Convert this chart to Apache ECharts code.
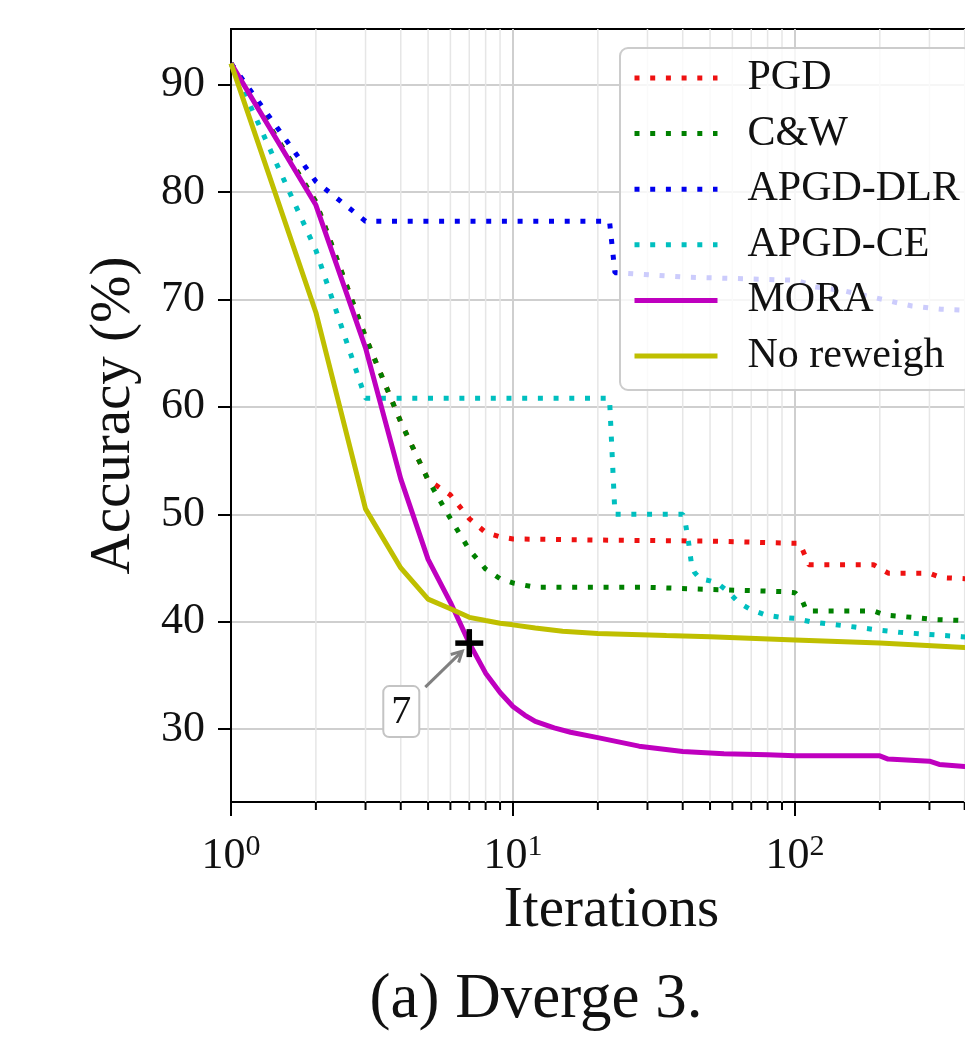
<!DOCTYPE html>
<html>
<head>
<meta charset="utf-8">
<script src="https://cdn.jsdelivr.net/npm/echarts@6.0.0/dist/echarts.min.js"></script>
<style>
  html, body { margin: 0; padding: 0; background: #ffffff; overflow: hidden; }
  #chart { width: 1100px; height: 1046px; }
</style>
</head>
<body>
<div id="chart"></div>
<script>
// Robust accuracy (%) against attack iterations (log scale), Dverge 3 ensemble.
const pgdIter = [1, 2, 3, 4, 5, 6, 7, 8, 9, 10, 20, 50, 100, 104, 108, 112, 190, 205, 215, 300, 330, 400, 500];
const pgdAcc  = [92, 79.1, 66.5, 58.6, 53.2, 51.8, 49.6, 48.3, 47.9, 47.7, 47.6, 47.5, 47.3, 47.3, 46.3, 45.3, 45.3, 44.8, 44.5, 44.5, 44.1, 44.0, 43.9];

const cwIter = [1, 2, 3, 4, 5, 6, 7, 8, 9, 10, 12, 30, 50, 90, 100, 106, 110, 190, 210, 260, 310, 400, 500];
const cwAcc  = [92, 79.1, 66.5, 58.6, 53.2, 49.6, 46.7, 44.9, 44.0, 43.6, 43.2, 43.2, 43.0, 42.8, 42.7, 42.0, 41.0, 41.0, 40.6, 40.4, 40.2, 40.1, 40.0];

const dlrIter = [1, 2, 3, 22, 23, 40, 100, 110, 116, 150, 190, 260, 330, 400, 500];
const dlrAcc  = [92, 81.0, 77.3, 77.3, 72.5, 72.1, 71.8, 71.5, 71.2, 70.8, 70.2, 69.4, 69.1, 69.0, 68.8];

const ceIter = [1, 2, 3, 22, 23, 40, 41, 42, 43, 44, 46, 50, 53, 58, 63, 70, 79, 89, 100, 113, 130, 163, 200, 236, 300, 390, 500];
const ceAcc  = [92, 74.6, 60.8, 60.8, 50.0, 50.0, 49.0, 47.3, 45.3, 44.6, 44.0, 43.8, 43.6, 42.8, 41.8, 41.1, 40.6, 40.4, 40.3, 40.0, 39.8, 39.5, 39.2, 39.0, 38.8, 38.6, 38.4];

const moraIter = [1, 2, 3, 4, 5, 6, 7, 8, 9, 10, 11, 12, 14, 16, 20, 28, 40, 56, 80, 100, 200, 214, 300, 325, 400, 500];
const moraAcc  = [92, 78.8, 65.5, 53.3, 45.8, 41.8, 38.0, 35.2, 33.4, 32.1, 31.3, 30.7, 30.1, 29.7, 29.2, 28.4, 27.9, 27.7, 27.6, 27.5, 27.5, 27.2, 27.0, 26.7, 26.5, 26.4];

const noRwIter = [1, 2, 3, 4, 5, 6, 7, 8, 9, 10, 12, 15, 20, 35, 50, 100, 200, 400, 500];
const noRwAcc  = [92, 68.8, 50.5, 45.0, 42.1, 41.2, 40.4, 40.1, 39.85, 39.7, 39.4, 39.1, 38.9, 38.7, 38.6, 38.3, 38.0, 37.6, 37.5];

// Marked iteration on the MORA curve
const markIter = 7;

// Axis ranges and ticks
const xMin = 1, xMax = 500;
const yMin = 23.2, yMax = 95.2;
const yTicks = [30, 40, 50, 60, 70, 80, 90];
const xMinor = [2, 3, 4, 5, 6, 7, 8, 9, 20, 30, 40, 50, 60, 70, 80, 90, 200, 300, 400];

const serif = 'Liberation Serif';
const ink = '#111111';

function pairs(xs, ys) { return xs.map((x, i) => [x, ys[i]]); }

const dotted = { width: 5, type: [5, 10.7], cap: 'butt' };
const solid = { width: 5, type: 'solid' };

function lineSeries(name, xs, ys, color, style, z) {
  return {
    name: name,
    type: 'line',
    data: pairs(xs, ys),
    symbol: 'none',
    smooth: false,
    z: z,
    itemStyle: { color: color },
    lineStyle: Object.assign({ color: color }, style),
    emphasis: { disabled: true }
  };
}

const chart = echarts.init(document.getElementById('chart'), null, { renderer: 'canvas' });

chart.setOption({
  animation: false,
  backgroundColor: '#ffffff',
  grid: {
    left: 231, right: 108, top: 29, bottom: 244,
    show: true, borderColor: '#000000', borderWidth: 2, backgroundColor: 'transparent'
  },
  legend: {
    data: ['PGD', 'C&W', 'APGD-DLR', 'APGD-CE', 'MORA', 'No reweigh'],
    orient: 'vertical',
    left: 620,
    top: 48,
    align: 'left',
    padding: [8, 12, 12, 12],
    itemWidth: 83,
    itemHeight: 20,
    itemGap: 11.6,
    backgroundColor: 'rgba(255,255,255,0.8)',
    borderColor: '#cccccc',
    borderWidth: 2,
    borderRadius: 8,
    itemStyle: { opacity: 0 },
    lineStyle: { width: 5 },
    selectedMode: false,
    textStyle: {
      fontFamily: serif, fontSize: 42, color: ink, lineHeight: 44,
      padding: [0, 0, 0, 25]
    }
  },
  xAxis: {
    type: 'log',
    logBase: 10,
    min: xMin,
    max: xMax,
    name: 'Iterations',
    nameLocation: 'middle',
    nameGap: 81,
    nameMoveOverlap: false,
    nameTextStyle: { fontFamily: serif, fontSize: 57, color: ink },
    axisLine: { show: true, lineStyle: { color: '#000000', width: 2 } },
    axisTick: { show: true, inside: false, length: 14, lineStyle: { color: '#000000', width: 2 } },
    axisLabel: {
      margin: 30,
      showMaxLabel: false,
      formatter: function (v) {
        return '{b|10}{s|' + Math.round(Math.log10(v)) + '}';
      },
      rich: {
        b: { fontFamily: serif, fontSize: 44, lineHeight: 48, color: ink },
        s: { fontFamily: serif, fontSize: 30, lineHeight: 14, color: ink, verticalAlign: 'top' }
      }
    },
    splitLine: { show: true, lineStyle: { color: '#cfcfcf', width: 2 } },
    minorTick: { show: false },
    minorSplitLine: { show: false }
  },
  yAxis: {
    type: 'value',
    min: yMin,
    max: yMax,
    splitNumber: 7,
    name: 'Accuracy (%)',
    nameLocation: 'middle',
    nameGap: 88,
    nameTextStyle: { fontFamily: serif, fontSize: 57, color: ink },
    axisLine: { show: true, lineStyle: { color: '#000000', width: 2 } },
    axisTick: { show: true, inside: false, length: 13, customValues: yTicks, lineStyle: { color: '#000000', width: 2 } },
    axisLabel: {
      margin: 26, customValues: yTicks,
      fontFamily: serif, fontSize: 44, color: ink
    },
    splitLine: { show: true, lineStyle: { color: '#cfcfcf', width: 2 } }
  },
  graphic: [{
    type: 'text',
    x: 536,
    y: 1000,
    style: {
      text: '(a) Dverge 3.',
      font: '63px "Liberation Serif"',
      fill: '#111111',
      align: 'center',
      verticalAlign: 'middle'
    }
  }],
  series: [
    {
      // minor log grid lines and minor ticks
      name: 'minor',
      type: 'custom',
      z: 1,
      clip: false,
      silent: true,
      data: xMinor.map(v => [v, yMin]),
      encode: { x: 0, y: 1 },
      renderItem: function (params, api) {
        const x = api.value(0);
        const top = api.coord([x, yMax]);
        const bot = api.coord([x, yMin]);
        return {
          type: 'group',
          children: [
            { type: 'line', shape: { x1: top[0], y1: top[1], x2: bot[0], y2: bot[1] },
              style: { stroke: '#e6e6e6', lineWidth: 1.5 } },
            { type: 'line', shape: { x1: bot[0], y1: bot[1], x2: bot[0], y2: bot[1] + 8 },
              style: { stroke: '#000000', lineWidth: 2 } }
          ]
        };
      }
    },
    lineSeries('PGD', pgdIter, pgdAcc, '#ee1111', dotted, 3),
    lineSeries('C&W', cwIter, cwAcc, '#008000', dotted, 3),
    lineSeries('APGD-DLR', dlrIter, dlrAcc, '#0000ee', dotted, 3),
    lineSeries('APGD-CE', ceIter, ceAcc, '#00bfbf', dotted, 3),
    lineSeries('MORA', moraIter, moraAcc, '#bf00bf', solid, 3),
    lineSeries('No reweigh', noRwIter, noRwAcc, '#bfbf00', solid, 3),
    {
      // "+" marker with annotation box and arrow
      name: 'mark',
      type: 'custom',
      z: 6,
      clip: false,
      silent: true,
      data: [[markIter, moraAcc[moraIter.indexOf(markIter)]]],
      encode: { x: 0, y: 1 },
      renderItem: function (params, api) {
        const p = api.coord([api.value(0), api.value(1)]);
        const cx = p[0], cy = p[1];
        const tail = [cx - 44, cy + 44];
        const tip = [cx - 7, cy + 8];
        const dx = tail[0] - tip[0], dy = tail[1] - tip[1];
        const len = Math.sqrt(dx * dx + dy * dy);
        const bx = dx / len, by = dy / len;
        const a = 28 * Math.PI / 180, h = 12;
        const c = Math.cos(a), s = Math.sin(a);
        const w1 = [tip[0] + h * (bx * c - by * s), tip[1] + h * (bx * s + by * c)];
        const w2 = [tip[0] + h * (bx * c + by * s), tip[1] + h * (-bx * s + by * c)];
        return {
          type: 'group',
          children: [
            { type: 'line', shape: { x1: cx - 14, y1: cy, x2: cx + 14, y2: cy },
              style: { stroke: '#000000', lineWidth: 5.5 } },
            { type: 'line', shape: { x1: cx, y1: cy - 14, x2: cx, y2: cy + 14 },
              style: { stroke: '#000000', lineWidth: 5.5 } },
            { type: 'line', shape: { x1: tail[0], y1: tail[1], x2: tip[0], y2: tip[1] },
              style: { stroke: '#808080', lineWidth: 3 } },
            { type: 'polyline', shape: { points: [w1, tip, w2] },
              style: { stroke: '#808080', lineWidth: 3, fill: null } },
            { type: 'rect', shape: { x: cx - 86, y: cy + 43, width: 36, height: 51, r: 6 },
              style: { fill: '#ffffff', stroke: '#c4c4c4', lineWidth: 2 } },
            { type: 'text', x: cx - 68, y: cy + 69,
              style: { text: String(api.value(0)), font: '40px "Liberation Serif"', fill: '#111111',
                       align: 'center', verticalAlign: 'middle' } }
          ]
        };
      }
    }
  ]
});
</script>
</body>
</html>
